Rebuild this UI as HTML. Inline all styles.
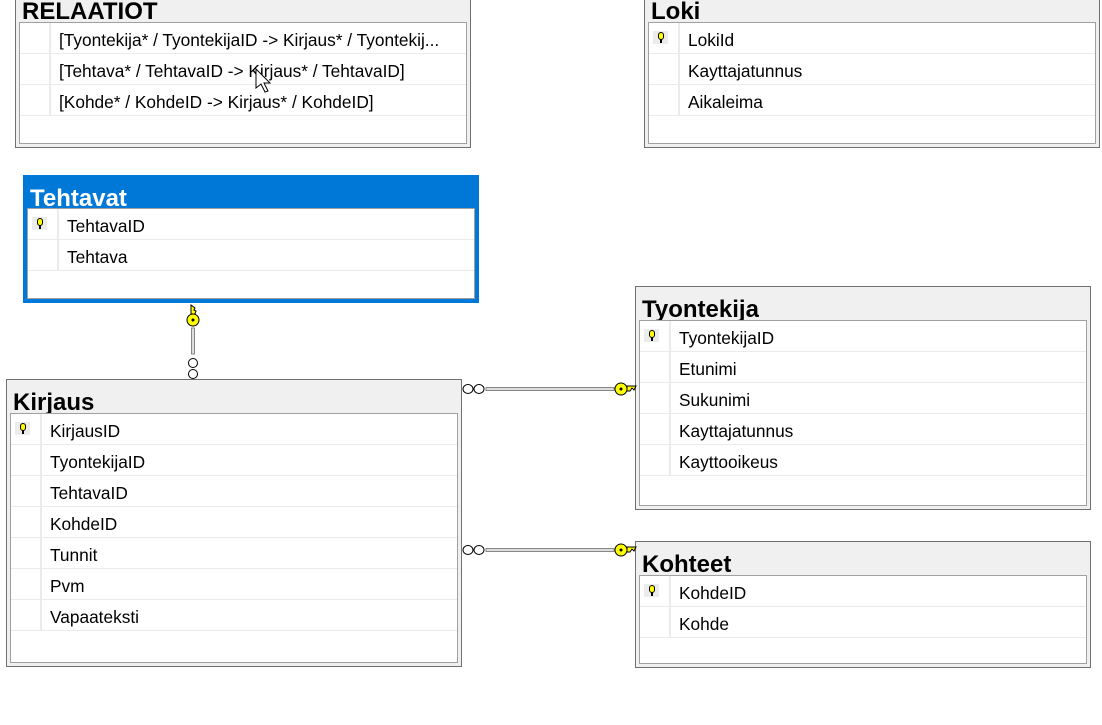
<!DOCTYPE html>
<html><head><meta charset="utf-8"><style>
body{margin:0;width:1102px;height:725px;background:#fff;position:relative;overflow:hidden;font-family:"Liberation Sans",sans-serif}
.t{position:absolute;border:1px solid #707070;background:#f0f0f0;box-sizing:border-box;overflow:hidden}
.t.sel{border:3px solid #0078d7;background:#0078d7}
.ti{position:absolute;left:6px;font-weight:bold;font-size:24px;color:#000;line-height:24px;overflow:hidden}
.sel .ti{color:#fff;left:4px}
.in{position:absolute;left:3px;right:3px;bottom:3px;border:1px solid #a0a0a0;background:#fff;box-sizing:border-box}
.r{height:31px;border-bottom:1px solid #ebebeb;box-sizing:border-box;position:relative;font-size:17.3px;line-height:30px;color:#000;white-space:nowrap}
.r:before{content:"";position:absolute;left:0;top:0;width:29px;height:30px;border-right:2px solid #ebebeb}
.r span{position:absolute;left:39px;top:2px}
.k{position:absolute;left:4px;top:8px;width:15px;height:13px;background:#ececec}
.k:after{content:"";position:absolute;left:5px;top:1px;width:4px;height:6px;border:1px solid #000;border-radius:3px;background:#ff0}
.k:before{content:"";position:absolute;left:7px;top:8px;width:2px;height:4px;background:#000}
</style></head><body>

<div class="t" style="left:15px;top:-10px;width:456px;height:158px">
 <div class="ti" style="top:9px;height:22px">RELAATIOT</div>
 <div class="in" style="top:31px">
  <div class="r"><span style="left:39px">[Tyontekija* / TyontekijaID -&gt; Kirjaus* / Tyontekij...</span></div>
  <div class="r"><span>[Tehtava* / TehtavaID -&gt; Kirjaus* / TehtavaID]</span></div>
  <div class="r"><span>[Kohde* / KohdeID -&gt; Kirjaus* / KohdeID]</span></div>
 </div>
</div>

<div class="t" style="left:644px;top:-10px;width:456px;height:158px">
 <div class="ti" style="top:9px;height:22px">Loki</div>
 <div class="in" style="top:31px">
  <div class="r"><div class="k"></div><span>LokiId</span></div>
  <div class="r"><span>Kayttajatunnus</span></div>
  <div class="r"><span>Aikaleima</span></div>
 </div>
</div>

<div class="t sel" style="left:23px;top:175px;width:456px;height:128px">
 <div class="ti" style="top:9px;height:21px">Tehtavat</div>
 <div class="in" style="top:30px;left:1px;right:1px;bottom:1px;border-color:#a0a0a0">
  <div class="r"><div class="k"></div><span>TehtavaID</span></div>
  <div class="r"><span>Tehtava</span></div>
 </div>
</div>

<div class="t" style="left:6px;top:379px;width:456px;height:288px">
 <div class="ti" style="top:11px;height:22px">Kirjaus</div>
 <div class="in" style="top:33px">
  <div class="r"><div class="k"></div><span>KirjausID</span></div>
  <div class="r"><span>TyontekijaID</span></div>
  <div class="r"><span>TehtavaID</span></div>
  <div class="r"><span>KohdeID</span></div>
  <div class="r"><span>Tunnit</span></div>
  <div class="r"><span>Pvm</span></div>
  <div class="r"><span>Vapaateksti</span></div>
 </div>
</div>

<div class="t" style="left:635px;top:286px;width:456px;height:224px">
 <div class="ti" style="top:11px;height:22px">Tyontekija</div>
 <div class="in" style="top:33px">
  <div class="r"><div class="k"></div><span>TyontekijaID</span></div>
  <div class="r"><span>Etunimi</span></div>
  <div class="r"><span>Sukunimi</span></div>
  <div class="r"><span>Kayttajatunnus</span></div>
  <div class="r"><span>Kayttooikeus</span></div>
 </div>
</div>

<div class="t" style="left:635px;top:541px;width:456px;height:127px">
 <div class="ti" style="top:11px;height:22px">Kohteet</div>
 <div class="in" style="top:33px">
  <div class="r"><div class="k"></div><span>KohdeID</span></div>
  <div class="r"><span>Kohde</span></div>
 </div>
</div>

<svg width="1102" height="725" style="position:absolute;left:0;top:0;pointer-events:none">
 <g fill="none" stroke="#888" stroke-width="1">
  <rect x="191.5" y="328" width="3" height="26" fill="#ddd"/>
  <rect x="486" y="387.5" width="128" height="3" fill="#ddd"/>
  <rect x="486" y="548.5" width="128" height="3" fill="#ddd"/>
 </g>
 <g fill="#fff" stroke="#000" stroke-width="1">
  <circle cx="193" cy="363" r="4.5"/><circle cx="193" cy="374" r="4.5"/>
  <ellipse cx="468" cy="389" rx="5" ry="4.5"/><ellipse cx="479" cy="389" rx="5" ry="4.5"/>
  <ellipse cx="468" cy="550" rx="5" ry="4.5"/><ellipse cx="479" cy="550" rx="5" ry="4.5"/>
 </g>
 <g fill="#ff0" stroke="#000" stroke-width="1">
  <circle cx="193" cy="320" r="6"/><path d="M191 314 L191 305 L195 308 L194 310 L196 311 L195 314Z"/>
  <circle cx="621" cy="389" r="6"/><path d="M627 386 L636 386 L634 390 L632 388 L630 391 L627 391Z"/>
  <circle cx="621" cy="550" r="6"/><path d="M627 547 L636 547 L634 551 L632 549 L630 552 L627 552Z"/>
 </g>
 <g fill="#000"><circle cx="193" cy="320" r="1.5"/><circle cx="621" cy="389" r="1.5"/><circle cx="621" cy="550" r="1.5"/></g>
 <path d="M256 69 L256 88 L261 84 L265 92 L268 91 L264 83 L270 83Z" fill="#fff" stroke="#000"/>
</svg>
</body></html>
